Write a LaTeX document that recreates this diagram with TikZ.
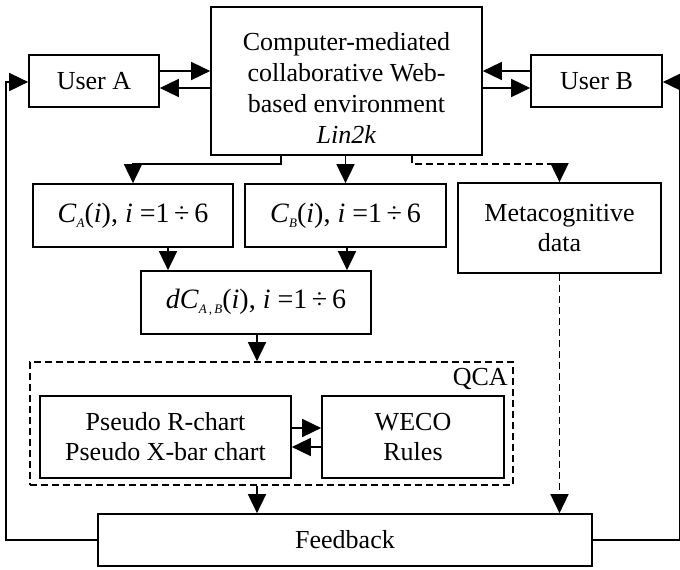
\documentclass[tikz,border=0pt]{standalone}
\usepackage{fontspec}
\setmainfont{Liberation Serif}
\usetikzlibrary{arrows.meta}
\newcommand\sbs[1]{\raisebox{-5.5pt}{\fontsize{13}{13}\selectfont\itshape #1}}
\begin{document}
\begin{tikzpicture}[x=1pt,y=-1pt,
  box/.style={draw, line width=1.7pt, align=center, inner sep=0pt, font=\fontsize{26}{30}\selectfont},
  mathfont/.style={font=\fontsize{28}{30}\selectfont},
  arr/.style={line width=1.7pt, -{Triangle[length=19pt,width=18pt]}},
  dsh/.style={dash pattern=on 7pt off 4pt}]
\useasboundingbox (0,0) rectangle (680,570);
% nodes
\node[box, minimum width=130pt, minimum height=52pt] (ua) at (94,81) {User A};
\node[box, minimum width=271pt, minimum height=148pt] (cm) at (346.5,81) {};
\node[align=center, inner sep=0pt, font=\fontsize{26}{31}\selectfont] (cmt) at ([yshift=-7pt]cm.center)
  {Computer-mediated\\collaborative Web-\\based environment\\\textit{Lin2k}};
\node[box, minimum width=131pt, minimum height=52pt] (ub) at (596.5,81) {User B};
\node[box, mathfont, minimum width=200pt, minimum height=63pt] (ca) at (133,215.5)
  {\textit{C}\sbs{A}(\textit{i}), \textit{i} =1\,÷\,6};
\node[box, mathfont, minimum width=201pt, minimum height=63pt] (cb) at (345.5,215.5)
  {\textit{C}\sbs{B}(\textit{i}), \textit{i} =1\,÷\,6};
\node[box, minimum width=203pt, minimum height=90pt] (mt) at (559.5,228)
  {Metacognitive\\data};
\node[box, mathfont, minimum width=230pt, minimum height=63pt] (dc) at (256,302.5)
  {\textit{dC}\sbs{A\,,\,B}(\textit{i}), \textit{i} =1\,÷\,6};
\node[draw, dsh, line width=1.7pt, minimum width=483pt, minimum height=123pt, inner sep=0pt] (qca) at (271.5,423.5) {};
\node[anchor=base east, inner sep=0pt, font=\fontsize{26}{30}\selectfont] (ql) at ([shift={(-6pt,-24pt)}]qca.north east) {QCA};
\node[box, minimum width=251pt, minimum height=82pt] (ps) at (165.5,437)
  {Pseudo R-chart\\Pseudo X-bar chart};
\node[box, minimum width=182pt, minimum height=82pt] (we) at (413,437)
  {WECO\\Rules};
\node[box, minimum width=494pt, minimum height=52pt] (fb) at (345,540) {Feedback};
% connectors
\draw[arr] ([yshift=10pt]ua.east) -- ([yshift=10pt]ua.east -| cm.west);
\draw[arr] ([yshift=-7pt]cm.west) -- ([yshift=-7pt]cm.west -| ua.east);
\draw[arr] ([yshift=10pt]ub.west) -- ([yshift=10pt]ub.west -| cm.east);
\draw[arr] ([yshift=-7pt]cm.east) -- ([yshift=-7pt]cm.east -| ub.west);
\draw[arr] ([xshift=-65.5pt]cm.south) -- ++(0,8) -| (ca.north);
\draw[arr] (cb.north |- cm.south) -- (cb.north);
\draw[arr, dsh] ([xshift=65.5pt]cm.south) -- ++(0,8) -| (mt.north);
\draw[arr] ([xshift=35pt]ca.south) -- ([xshift=35pt]ca.south |- dc.north);
\draw[arr] ([xshift=1.5pt]cb.south) -- ([xshift=1.5pt]cb.south |- dc.north);
\draw[arr] ([xshift=1pt]dc.south) -- ([xshift=1pt]dc.south |- qca.north);
\draw[arr] ([yshift=9pt]ps.east) -- ([yshift=9pt]ps.east -| we.west);
\draw[arr] ([yshift=-10pt]we.west) -- ([yshift=-10pt]we.west -| ps.east);
\draw[arr] ([xshift=-88pt]fb.north |- qca.south) -- ([xshift=-88pt]fb.north);
\draw[arr, dsh] (mt.south) -- (mt.south |- fb.north);
\draw[arr] (fb.west) -- ++(-91,0) |- ([yshift=-1pt]ua.west);
\draw[arr] (fb.east) -- ++(87,0) |- ([yshift=-1pt]ub.east);
\end{tikzpicture}
\end{document}
